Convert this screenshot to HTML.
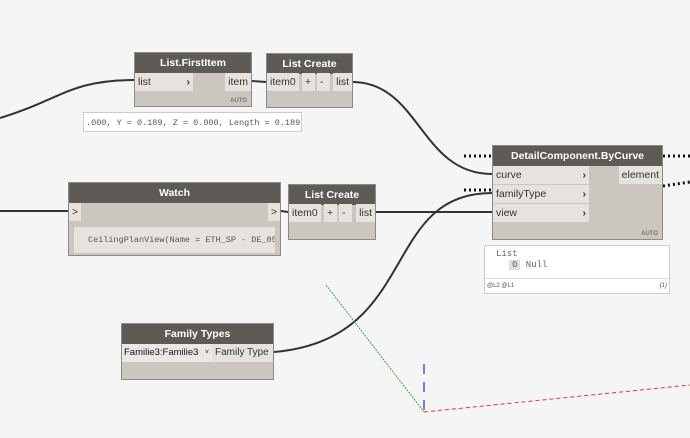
<!DOCTYPE html><html><head><style>
body{margin:0;width:690px;height:438px;background:#f5f5f5;position:relative;overflow:hidden;font-family:"Liberation Sans",sans-serif}
*{white-space:nowrap}
.n{position:absolute;background:#cbc6be;border:1px solid #8f8a84;box-sizing:border-box}
.h{background:#5e5b57;color:#fff;font-weight:bold;font-size:10.5px;text-align:center;height:20px;line-height:20px}
.p{position:absolute;background:#e6e3de;font-size:10.5px;color:#333;height:18px;line-height:18px;padding:0 3px;box-sizing:border-box}
.auto{position:absolute;right:4px;bottom:2px;font-size:6px;font-weight:bold;color:#777}
.m{font-family:"Liberation Mono",monospace;overflow:hidden}
</style></head><body>
<svg width="690" height="438" style="position:absolute;left:0;top:0">
<g fill="none" stroke="#333" stroke-width="2">
<path d="M0,118 C60,100 70,80 134,80"/>
<path d="M252,81 L266,82"/>
<path d="M352,82 C420,82 420,174 492,174"/>
<path d="M0,211 L68,211"/>
<path d="M281,211 L288,212"/>
<path d="M376,212 C420,212 440,212 492,212"/>
<path d="M274,352 C420,340 380,193 492,193"/>
</g>
<line x1="326" y1="285" x2="424" y2="412" stroke="#3a3" stroke-width="1" stroke-dasharray="2,1"/>
<line x1="424" y1="412" x2="690" y2="385" stroke="#e33" stroke-width="1" stroke-dasharray="4,3"/>
<line x1="424" y1="364" x2="424" y2="410" stroke="#55d" stroke-width="1.5" stroke-dasharray="10,8"/>
<g stroke="#111" stroke-width="3" stroke-dasharray="2,3">
<line x1="464" y1="156" x2="492" y2="156"/><line x1="663" y1="156" x2="690" y2="156"/>
<line x1="464" y1="190" x2="492" y2="190"/><line x1="663" y1="186" x2="690" y2="182"/>
</g>
</svg>
<div class="n" style="left:134px;top:52px;width:118px;height:55px"><div class="h">List.FirstItem</div>
<div class="p" style="left:0;top:20px;width:58px">list<b style="float:right">›</b></div>
<div class="p" style="right:0;top:20px">item</div><div class="auto">AUTO</div></div>
<div class="n" style="left:266px;top:53px;width:87px;height:55px"><div class="h">List Create</div>
<div class="p" style="left:0;top:19px">item0</div><div class="p" style="left:35px;top:19px;width:13px">+</div><div class="p" style="left:50px;top:19px;width:13px">-</div><div class="p" style="right:0;top:19px">list</div></div>
<div class="m" style="position:absolute;left:83px;top:112px;width:219px;height:20px;border:1px solid #ccc;background:#fff;font-size:8.5px;line-height:20px;color:#555;box-sizing:border-box;padding-left:2px">.000, Y = 0.189, Z = 0.000, Length = 0.189))</div>
<div class="n" style="left:68px;top:182px;width:213px;height:74px"><div class="h">Watch</div>
<div class="p" style="left:0;top:20px;width:12px">&gt;</div><div class="p" style="right:0;top:20px;width:12px">&gt;</div>
<div class="m" style="position:absolute;left:5px;top:44px;width:201px;height:26px;background:#e6e3de;font-size:8.5px;line-height:26px;color:#555;padding-left:14px;box-sizing:border-box">CeilingPlanView(Name = ETH_SP - DE_050</div></div>
<div class="n" style="left:288px;top:184px;width:88px;height:56px"><div class="h">List Create</div>
<div class="p" style="left:0;top:19px">item0</div><div class="p" style="left:35px;top:19px;width:13px">+</div><div class="p" style="left:50px;top:19px;width:13px">-</div><div class="p" style="right:0;top:19px">list</div></div>
<div class="n" style="left:492px;top:145px;width:171px;height:95px"><div class="h">DetailComponent.ByCurve</div>
<div class="p" style="left:0;top:20px;width:96px">curve<b style="float:right">›</b></div>
<div class="p" style="left:0;top:39px;width:96px">familyType<b style="float:right">›</b></div>
<div class="p" style="left:0;top:58px;width:96px">view<b style="float:right">›</b></div>
<div class="p" style="right:0;top:20px">element</div><div class="auto">AUTO</div></div>
<div style="position:absolute;left:484px;top:245px;width:186px;height:49px;background:#fff;border:1px solid #ccc;box-sizing:border-box">
<div class="m" style="position:absolute;left:11px;top:3px;font-size:9px;color:#666">List</div>
<div class="m" style="position:absolute;left:24px;top:14px;font-size:9px;color:#666"><span style="background:#ddd;padding:0 3px">0</span> Null</div>
<div style="position:absolute;left:0;right:0;top:32px;border-top:1px solid #ddd;font-size:6px;color:#555;padding:4px 2px">@L2 @L1<span style="float:right;font-style:italic">{1}</span></div></div>
<div class="n" style="left:121px;top:323px;width:153px;height:57px"><div class="h">Family Types</div>
<div class="p" style="left:0;top:20px;width:90px;background:#eae8e4;color:#111;font-size:9.5px;padding:0 2px">Familie3:Familie3<span style="position:absolute;right:3px;font-size:7px">˅</span></div>
<div class="p" style="right:0;top:20px;width:61px;font-size:10px">Family Type</div></div>
</body></html>
